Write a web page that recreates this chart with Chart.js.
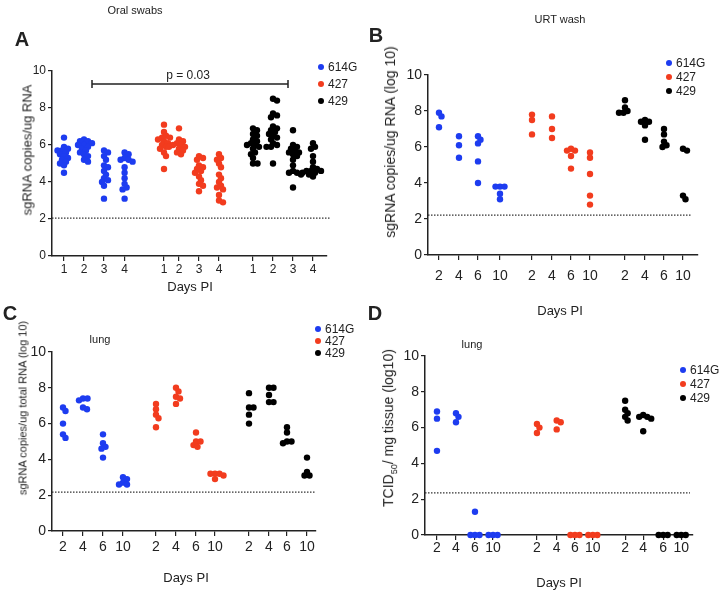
<!DOCTYPE html>
<html>
<head>
<meta charset="utf-8">
<script src="https://cdn.jsdelivr.net/npm/chart.js@4.4.1/dist/chart.umd.min.js"></script>
<style>
  body { margin: 0; background: #fff; }
  #fig { position: relative; width: 720px; height: 594px; font-family: "Liberation Sans", Arial, sans-serif; color: #222; }
  #fig canvas { position: absolute; left: 0; top: 0; }
  .t { position: absolute; transform: translate(-50%, -50%); white-space: nowrap; line-height: 1; }
  .v { transform: translate(-50%, -50%) rotate(-90deg); }
  .letter { font-weight: bold; font-size: 20px; }
  .small { font-size: 11px; }
  .leg { position: absolute; font-size: 12px; line-height: 1; white-space: nowrap; transform: translateY(-50%); }
  .leg span { display: inline-block; width: 6px; height: 6px; border-radius: 50%; margin-right: 4px; vertical-align: 1px; }
</style>
</head>
<body>
<div id="fig">
  <canvas id="cA" width="720" height="594"></canvas>
  <canvas id="cB" width="720" height="594"></canvas>
  <canvas id="cC" width="720" height="594"></canvas>
  <canvas id="cD" width="720" height="594"></canvas>

  <div class="t small" style="left:135px;top:10px">Oral swabs</div>
  <div class="t letter" style="left:22px;top:39px">A</div>
  <div class="t" style="left:188px;top:75px;font-size:12px">p = 0.03</div>
  <div class="t v" style="left:27px;top:150px;font-size:13px">sgRNA copies/ug RNA</div>
  <div class="t" style="left:190px;top:286px;font-size:13px">Days PI</div>

  <div class="t small" style="left:560px;top:19px">URT wash</div>
  <div class="t letter" style="left:376px;top:35px">B</div>
  <div class="t v" style="left:390px;top:142px;font-size:14px">sgRNA copies/ug RNA (log 10)</div>
  <div class="t" style="left:560px;top:310px;font-size:13px">Days PI</div>

  <div class="t letter" style="left:10px;top:313px">C</div>
  <div class="t small" style="left:100px;top:339px">lung</div>
  <div class="t v" style="left:23px;top:408px;font-size:11px">sgRNA copies/ug total RNA (log 10)</div>
  <div class="t" style="left:186px;top:577px;font-size:13px">Days PI</div>

  <div class="t letter" style="left:375px;top:313px">D</div>
  <div class="t small" style="left:472px;top:344px">lung</div>
  <div class="t v" style="left:390px;top:428px;font-size:14px">TCID<sub style="font-size:9px">50</sub>/ mg tissue (log10)</div>
  <div class="t" style="left:559px;top:582px;font-size:13px">Days PI</div>
</div>

<script>
// Series names and colours
const strains = ['614G', '427', '429'];
const colors = ['#1d3cf0', '#f23c1e', '#000000'];

// A: oral swabs, sgRNA copies/ug RNA, days 1-4
const daysA = ['1', '2', '3', '4'];
const oral614G = [
  [6.4, 5.9, 5.8, 5.7, 5.7, 5.6, 5.5, 5.4, 5.3, 5.2, 5.1, 5.0, 4.9, 4.5],
  [6.3, 6.2, 6.2, 6.1, 6.0, 6.0, 5.9, 5.8, 5.7, 5.6, 5.5, 5.4, 5.2, 5.1],
  [5.7, 5.6, 5.4, 5.2, 4.9, 4.8, 4.6, 4.4, 4.2, 4.1, 4.0, 3.8, 3.1],
  [5.6, 5.5, 5.3, 5.2, 5.2, 5.1, 4.8, 4.5, 4.2, 3.9, 3.7, 3.6, 3.1]
];
const oral427 = [
  [7.1, 6.7, 6.5, 6.4, 6.4, 6.3, 6.2, 6.1, 6.0, 5.9, 5.8, 5.6, 5.4, 4.7],
  [6.9, 6.3, 6.2, 6.1, 6.0, 6.0, 5.9, 5.9, 5.8, 5.7, 5.6, 5.5],
  [5.4, 5.3, 5.2, 4.9, 4.8, 4.7, 4.6, 4.5, 4.3, 4.1, 3.9, 3.8, 3.5],
  [5.5, 5.3, 5.2, 5.0, 4.8, 4.4, 4.2, 4.0, 3.8, 3.7, 3.6, 3.3, 3.0, 2.9]
];
const oral429 = [
  [6.9, 6.8, 6.6, 6.5, 6.3, 6.2, 6.1, 6.0, 6.0, 5.9, 5.8, 5.6, 5.5, 5.3, 5.0, 5.0],
  [8.5, 8.4, 7.7, 7.6, 7.5, 7.0, 6.9, 6.8, 6.7, 6.6, 6.5, 6.4, 6.3, 6.1, 6.0, 5.9, 5.9, 5.0],
  [6.8, 6.0, 5.9, 5.8, 5.7, 5.6, 5.6, 5.5, 5.4, 5.2, 4.9, 4.6, 4.5, 4.5, 4.4, 3.7],
  [6.1, 5.9, 5.8, 5.4, 5.1, 4.8, 4.7, 4.6, 4.6, 4.5, 4.5, 4.4, 4.3, 4.6]
];

// B: URT wash, days 2/4/6/10
const daysPI = ['2', '4', '6', '10'];
const urt614G = [[7.9, 7.7, 7.1], [6.6, 6.1, 5.4], [6.6, 6.4, 6.2, 5.2, 4.0], [3.8, 3.8, 3.8, 3.4, 3.1]];
const urt427 = [[7.8, 7.5, 6.7], [7.7, 7.0, 6.5], [5.9, 5.8, 5.8, 5.5, 4.8], [5.7, 5.4, 4.5, 3.3, 2.8]];
const urt429 = [[8.6, 8.2, 8.0, 7.9, 7.9], [7.5, 7.4, 7.4, 7.2, 6.4], [7.0, 6.7, 6.3, 6.1, 6.0], [5.9, 5.8, 3.3, 3.1]];

// C: lung sgRNA
const lung614G = [[6.9, 6.7, 6.0, 5.4, 5.2], [7.4, 7.4, 7.3, 6.9, 6.8], [5.4, 4.9, 4.7, 4.6, 4.1], [3.0, 2.9, 2.7, 2.6, 2.6]];
const lung427 = [[7.1, 6.8, 6.5, 6.3, 5.8], [8.0, 7.8, 7.5, 7.4, 7.1], [5.5, 5.0, 5.0, 4.8, 4.7], [3.2, 3.2, 3.2, 3.1, 2.9]];
const lung429 = [[7.7, 6.9, 6.9, 6.5, 6.0], [8.0, 8.0, 7.6, 7.2, 7.2], [5.8, 5.5, 5.0, 5.0, 4.9], [4.1, 3.3, 3.1, 3.1]];

// D: lung TCID50
const tcid614G = [[6.9, 6.5, 4.7], [6.8, 6.6, 6.3], [1.3, 0, 0, 0], [0, 0, 0]];
const tcid427 = [[6.2, 6.0, 5.7], [6.4, 6.3, 5.9], [0, 0, 0], [0, 0, 0]];
const tcid429 = [[7.5, 7.0, 6.8, 6.6, 6.4], [6.7, 6.6, 6.6, 6.5, 5.8], [0, 0, 0], [0, 0, 0]];

// Detection limits (dotted lines)
const limits = { A: 2.05, B: 2.22, C: 2.17, D: 2.35 };

// Layout of each panel: chart area in page pixels, slot position of each x category
const panels = [
  { id: 'cA', days: daysA, series: [oral614G, oral427, oral429], limit: limits.A,
    area: { left: 52, top: 71, right: 327, bottom: 256 }, xMin: 0.4, xMax: 14.15,
    slots: [1, 2, 3, 4.03, 6.0, 6.75, 7.75, 8.75, 10.45, 11.45, 12.45, 13.45],
    font: 12, tickPad: 1, limitOver: 3, bracket: { from: 2.4, to: 12.2, y: 9.3 },
    legend: { x: 318, y: 67, gap: 17 } },
  { id: 'cB', days: daysPI, series: [urt614G, urt427, urt429], limit: limits.B,
    area: { left: 428, top: 75, right: 698, bottom: 255 }, xMin: 0.45, xMax: 13.95,
    slots: [1, 2, 2.95, 4.05, 5.65, 6.65, 7.6, 8.55, 10.3, 11.3, 12.25, 13.2],
    font: 14, tickPad: 8, limitOver: -6,
    legend: { x: 666, y: 63, gap: 14 } },
  { id: 'cC', days: daysPI, series: [lung614G, lung427, lung429], limit: limits.C,
    area: { left: 52, top: 352, right: 316, bottom: 531 }, xMin: 0.45, xMax: 13.65,
    slots: [1, 2, 3, 4, 5.65, 6.65, 7.65, 8.6, 10.3, 11.3, 12.2, 13.2],
    font: 14, tickPad: 3, limitOver: 0,
    legend: { x: 315, y: 329, gap: 12 } },
  { id: 'cD', days: daysPI, series: [tcid614G, tcid427, tcid429], limit: limits.D,
    area: { left: 425, top: 356, right: 693, bottom: 535 }, xMin: 0.37, xMax: 14.47,
    slots: [1, 2, 3, 3.95, 6.26, 7.3, 8.26, 9.2, 10.9, 11.85, 12.9, 13.85],
    font: 14, tickPad: 0, limitOver: -3,
    legend: { x: 680, y: 370, gap: 14 } }
];

// Spreads points of one column sideways so the dots do not pile up (beeswarm)
const swarm = (vals, center, pxX, pxY, gap) => {
  const placed = [];
  return [...vals].sort((a, b) => b - a).map(v => {
    const py = v * pxY;
    let k = 0, dx = 0;
    while (true) {
      dx = (k % 2 ? 1 : -1) * Math.ceil(k / 2) * 0.5;
      if (placed.every(p => (p.x - dx) ** 2 + (p.y - py) ** 2 >= gap * gap)) break;
      k++;
    }
    placed.push({ x: dx, y: py });
    return { x: center + dx / pxX, y: v };
  });
};

// Dotted detection limit line and p-value bracket
const extras = {
  id: 'extras',
  beforeDatasetsDraw(chart, args, opts) {
    const { ctx, chartArea, scales: { x, y } } = chart;
    const py = y.getPixelForValue(opts.limit);
    ctx.save();
    ctx.strokeStyle = '#333';
    ctx.lineWidth = 1.2;
    ctx.setLineDash([1.5, 1.5]);
    ctx.beginPath();
    ctx.moveTo(chartArea.left, py);
    ctx.lineTo(chartArea.right + opts.limitOver, py);
    ctx.stroke();
    if (opts.bracket) {
      const b = opts.bracket;
      const x1 = x.getPixelForValue(b.from), x2 = x.getPixelForValue(b.to), by = y.getPixelForValue(b.y);
      ctx.setLineDash([]);
      ctx.strokeStyle = '#222';
      ctx.lineWidth = 1.5;
      ctx.beginPath();
      ctx.moveTo(x1, by); ctx.lineTo(x2, by);
      ctx.moveTo(x1, by - 4); ctx.lineTo(x1, by + 4);
      ctx.moveTo(x2, by - 4); ctx.lineTo(x2, by + 4);
      ctx.stroke();
    }
    ctx.restore();
  }
};

Chart.defaults.font.family = '"Liberation Sans", Arial, sans-serif';
Chart.defaults.color = '#222';

const fig = document.querySelector('#fig');

panels.forEach(p => {
  const labels = [...p.days, ...p.days, ...p.days];
  const pxX = (p.area.right - p.area.left) / (p.xMax - p.xMin);
  const pxY = (p.area.bottom - p.area.top) / 10;

  const datasets = p.series.map((s, k) => ({
    label: strains[k],
    data: s.flatMap((vals, d) => swarm(vals, p.slots[k * 4 + d], pxX, pxY, 4.2)),
    backgroundColor: colors[k],
    borderWidth: 0,
    pointRadius: 3.2,
    pointHoverRadius: 3.2,
    clip: false
  }));

  new Chart(document.querySelector('#' + p.id), {
    type: 'scatter',
    data: { datasets },
    options: {
      responsive: false,
      animation: false,
      events: [],
      layout: { padding: { left: 0, top: p.area.top, right: 720 - p.area.right, bottom: 594 - p.area.bottom - 30 } },
      plugins: {
        legend: { display: false },
        tooltip: { enabled: false },
        extras: { limit: p.limit, limitOver: p.limitOver, bracket: p.bracket }
      },
      scales: {
        x: {
          type: 'linear',
          min: p.xMin,
          max: p.xMax,
          afterFit: s => { s.height = 30; },
          afterBuildTicks: s => { s.ticks = p.slots.map(v => ({ value: v })); },
          ticks: { callback: (v, i) => labels[i], autoSkip: false, maxRotation: 0, padding: p.tickPad, font: { size: p.font }, color: '#222' },
          grid: { drawOnChartArea: false, drawTicks: true, tickLength: 5, color: '#222', lineWidth: 1.2 },
          border: { color: '#222', width: 1.5 }
        },
        y: {
          min: 0,
          max: 10,
          afterFit: s => { s.width = p.area.left; },
          ticks: { stepSize: 2, padding: 2, font: { size: p.font }, color: '#222' },
          grid: { drawOnChartArea: false, drawTicks: true, tickLength: 4, color: '#222', lineWidth: 1.2 },
          border: { color: '#222', width: 1.5 }
        }
      }
    },
    plugins: [extras]
  });

  // HTML legend for the panel
  strains.forEach((name, k) => {
    const item = document.createElement('div');
    item.className = 'leg';
    item.style.left = p.legend.x + 'px';
    item.style.top = (p.legend.y + k * p.legend.gap) + 'px';
    item.innerHTML = `<span style="background:${colors[k]}"></span>${name}`;
    fig.appendChild(item);
  });
});
</script>
</body>
</html>
